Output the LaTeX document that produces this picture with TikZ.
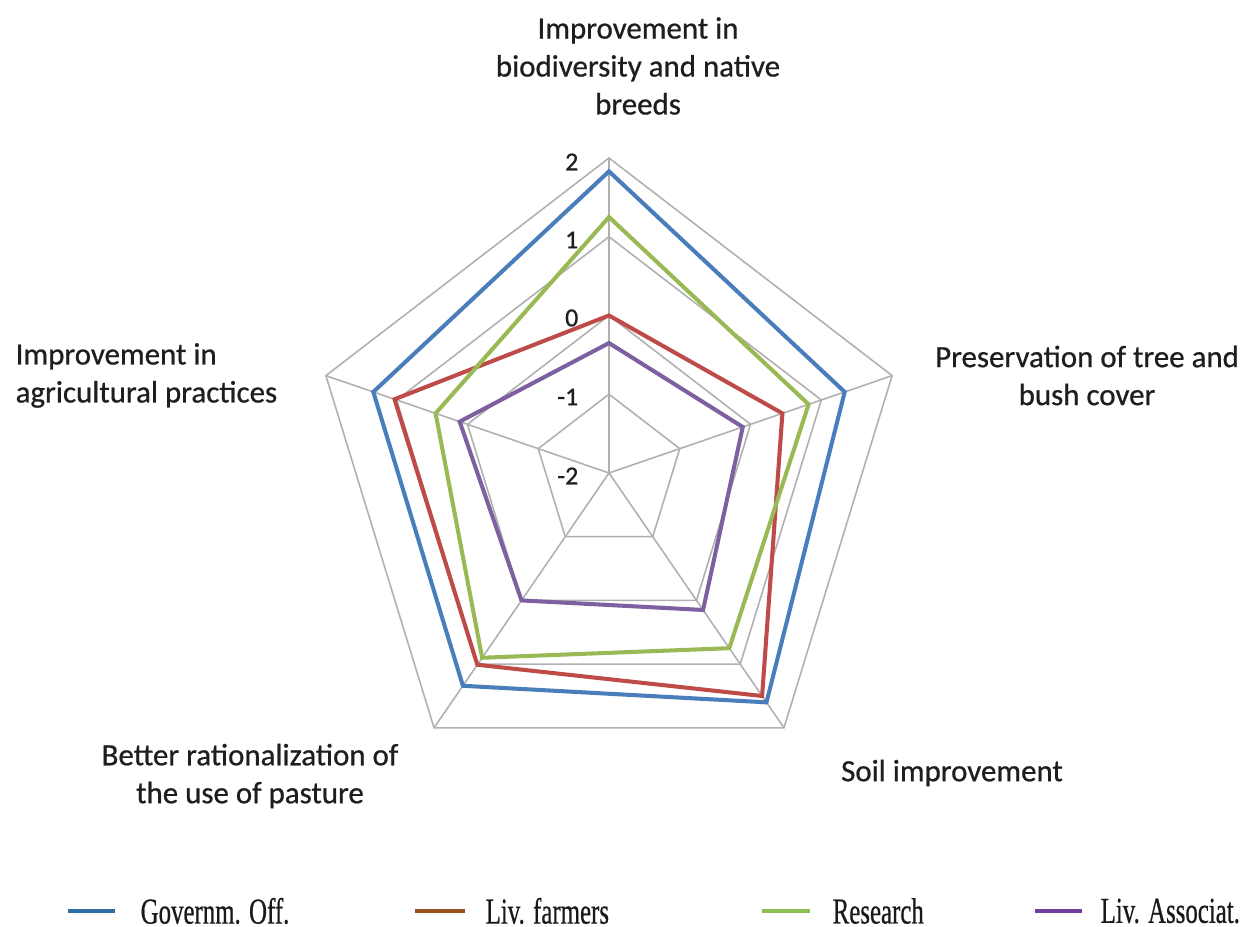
\documentclass[tikz,border=0pt]{standalone}
\usepackage{fontspec}
\setmainfont{Carlito}
\newfontfamily\labfont[FakeBold=0.7]{Carlito}
\newfontfamily\legfont[FakeStretch=0.68,FakeBold=0.5]{Liberation Serif}
\definecolor{cblue}{HTML}{4A7EBB}
\definecolor{cred}{HTML}{BE4B48}
\definecolor{cgreen}{HTML}{98B954}
\definecolor{cpurple}{HTML}{7D60A0}
\definecolor{lblue}{HTML}{2E6DA4}
\definecolor{lbrown}{HTML}{9C4F1E}
\definecolor{lgreen}{HTML}{8CC152}
\definecolor{lpurple}{HTML}{7040A0}
\definecolor{gridc}{HTML}{B0B0B0}
\definecolor{txt}{HTML}{1E1E1E}
\begin{document}
\begin{tikzpicture}[
  gridline/.style={draw=gridc, line width=0.45pt},
  ser/.style={line width=1.15pt, line join=miter},
  axlabel/.style={font=\labfont\fontsize{8.8}{10.8}\selectfont, text=txt, inner sep=0pt, align=center},
  ticklabel/.style={font=\labfont\fontsize{7.4}{8.5}\selectfont, text=txt, inner sep=0pt, anchor=east},
  legline/.style={line width=1.25pt},
  legtext/.style={font=\legfont\fontsize{10.4}{11.5}\selectfont, text=black!90, inner sep=0pt, anchor=west}
]
\useasboundingbox (0,0) rectangle (12.5,9.27);
\def\R{0.7875}
\begin{scope}[shift={(6.09,4.54)}, xscale=0.945]
  % grid rings
  \foreach \k in {1,2,3,4} {
    \draw[gridline] (90:{\k*\R}) -- (18:{\k*\R}) -- (-54:{\k*\R}) -- (-126:{\k*\R}) -- (162:{\k*\R}) -- cycle;
  }
  % spokes
  \coordinate (c) at (0,0);
  \foreach \a/\n in {90/t,18/r,-54/br,-126/bl,162/l} {
    \coordinate (v\n) at (\a:{4*\R});
    \draw[gridline] (c) -- (v\n);
  }
  % series
  \draw[ser, cblue] (90:{\R*3.83}) -- (18:{\R*3.33}) -- (-54:{\R*3.60}) -- (-126:{\R*3.34}) -- (162:{\R*3.33}) -- cycle;
  \draw[ser, cred] (90:{\R*2.00}) -- (18:{\R*2.45}) -- (-54:{\R*3.50}) -- (-126:{\R*3.01}) -- (162:{\R*3.03}) -- cycle;
  \draw[ser, cgreen] (90:{\R*3.25}) -- (18:{\R*2.82}) -- (-54:{\R*2.75}) -- (-126:{\R*2.90}) -- (162:{\R*2.45}) -- cycle;
  \draw[ser, cpurple] (90:{\R*1.65}) -- (18:{\R*1.89}) -- (-54:{\R*2.15}) -- (-126:{\R*2.00}) -- (162:{\R*2.11}) -- cycle;
\end{scope}
% tick labels
\node[ticklabel] (t2) at (5.79,7.65) {2};
\node[ticklabel] (t1) at (5.79,6.87) {1};
\node[ticklabel] (t0) at (5.79,6.09) {0};
\node[ticklabel] (tm1) at (5.79,5.30) {-1};
\node[ticklabel] (tm2) at (5.79,4.51) {-2};
% axis labels
\node[axlabel] (lt) at (6.38,8.61) {Improvement in\\biodiversity and native\\breeds};
\node[axlabel] (lr) at (10.87,5.515) {Preservation of tree and\\bush cover};
\node[axlabel, anchor=west, align=left] (ll) at (0.15,5.515) {Improvement in\\agricultural practices};
\node[axlabel] (lbl) at (2.50,1.51) {Better rationalization of\\the use of pasture};
\node[axlabel] (lbr) at (9.52,1.54) {Soil improvement};
% legend
\coordinate (lg1a) at (0.68,0.16); \coordinate (lg1b) at (1.15,0.16);
\coordinate (lg2a) at (4.15,0.16); \coordinate (lg2b) at (4.65,0.16);
\coordinate (lg3a) at (7.62,0.16); \coordinate (lg3b) at (8.10,0.16);
\coordinate (lg4a) at (10.35,0.16); \coordinate (lg4b) at (10.82,0.16);
\draw[legline, lblue] (lg1a) -- (lg1b);
\draw[legline, lbrown] (lg2a) -- (lg2b);
\draw[legline, lgreen] (lg3a) -- (lg3b);
\draw[legline, lpurple] (lg4a) -- (lg4b);
\node[legtext] (g1) at (1.40,0.16) {Governm. Off.};
\node[legtext] (g2) at (4.85,0.16) {Liv. farmers};
\node[legtext] (g3) at (8.32,0.16) {Research};
\node[legtext] (g4) at (11.00,0.16) {Liv. Associat.};
\end{tikzpicture}
\end{document}
